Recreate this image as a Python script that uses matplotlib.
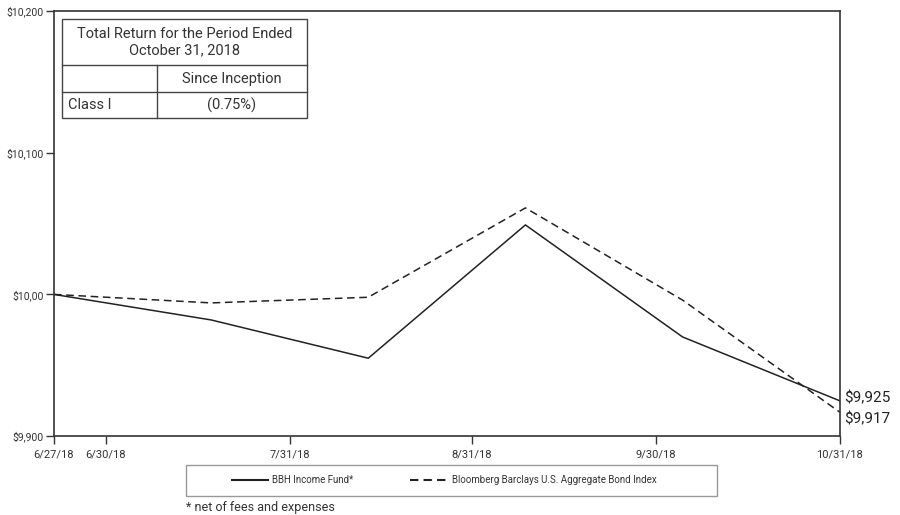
import matplotlib
matplotlib.use("Agg")
import matplotlib.pyplot as plt
from matplotlib.lines import Line2D
from matplotlib.patches import Rectangle

plt.rcParams['font.family'] = ['Roboto', 'DejaVu Sans']

# data
x_pos = [0, 1, 2, 3, 4, 5]
fund_vals = [10000, 9982, 9955, 10049, 9970, 9925]
index_vals = [10000, 9994, 9998, 10061, 9996, 9917]
tick_pos = [0, 0.33, 1.5, 2.66, 3.83, 5]
tick_labels = ['6/27/18', '6/30/18', '7/31/18', '8/31/18', '9/30/18', '10/31/18']
y_ticks = [9900, 10000, 10100, 10200]
y_labels = ['$9,900', '$10,00', '$10,100', '$10,200']
fund_name = 'BBH Income Fund*'
index_name = 'Bloomberg Barclays U.S. Aggregate Bond Index'
end_labels = ['$9,925', '$9,917']

fig = plt.figure(figsize=(9, 5.15), dpi=100)
ax = fig.add_axes([0.06, 0.153, 0.873, 0.826])

ax.plot(x_pos, fund_vals, color='#222222', lw=1.1)
ax.plot(x_pos, index_vals, color='#222222', lw=1.1, ls=(0, (5, 3)))

ax.set_xlim(0, 5)
ax.set_ylim(9900, 10200)
ax.set_xticks(tick_pos)
ax.set_xticklabels(tick_labels, fontsize=8, color='#333333')
ax.set_yticks(y_ticks)
ax.set_yticklabels(y_labels, fontsize=7.5, color='#333333')
ax.tick_params(direction='out', length=6, width=1, color='#333333')
ax.tick_params(axis='y', pad=1.5)
for s in ax.spines.values():
    s.set_color('#333333')
    s.set_linewidth(1.2)

# end values
ax.text(5.03, fund_vals[-1] + 2, end_labels[0], fontsize=11, va='center', ha='left', color='#222222')
ax.text(5.03, index_vals[-1] - 5, end_labels[1], fontsize=11, va='center', ha='left', color='#222222')

# return table, figure pixel coords
W, H = 900, 515
def fx(px): return px / W
def fy(py): return 1 - py / H

tl, tr, tc = 62, 307, 157
rows = [19, 65, 92, 118]
fig.add_artist(Rectangle((fx(tl), fy(rows[-1])), fx(tr) - fx(tl), fy(rows[0]) - fy(rows[-1]),
                         transform=fig.transFigure, fill=True, facecolor='white',
                         edgecolor='#444444', lw=1))
for r in rows[1:-1]:
    fig.add_artist(Line2D([fx(tl), fx(tr)], [fy(r), fy(r)], transform=fig.transFigure, color='#444444', lw=1))
fig.add_artist(Line2D([fx(tc), fx(tc)], [fy(rows[1]), fy(rows[-1])], transform=fig.transFigure, color='#444444', lw=1))
fig.text(fx((tl + tr) / 2), fy(42), 'Total Return for the Period Ended\nOctober 31, 2018', ha='center', va='center',
         fontsize=10.5, color='#333333', linespacing=1.15)
fig.text(fx((tc + tr) / 2), fy(79), 'Since Inception', ha='center', va='center', fontsize=10.5, color='#333333')
fig.text(fx(tl + 6), fy(105), 'Class I', ha='left', va='center', fontsize=10.5, color='#333333')
fig.text(fx((tc + tr) / 2), fy(105), '(0.75%)', ha='center', va='center', fontsize=10.5, color='#333333')

# legend box
fig.add_artist(Rectangle((fx(186), fy(496)), fx(717) - fx(186), fy(465) - fy(496),
                         transform=fig.transFigure, fill=False, edgecolor='#999999', lw=1))
fig.add_artist(Line2D([fx(232), fx(268)], [fy(480), fy(480)], transform=fig.transFigure, color='#222222', lw=1.5))
fig.text(fx(272), fy(480), fund_name, ha='left', va='center', fontsize=7, color='#333333')
fig.add_artist(Line2D([fx(410), fx(448)], [fy(480), fy(480)], transform=fig.transFigure, color='#222222', lw=1.5,
                      ls=(0, (4, 2.5))))
fig.text(fx(452), fy(480), index_name, ha='left', va='center', fontsize=7, color='#333333')

fig.text(fx(186), fy(507), '* net of fees and expenses', ha='left', va='center', fontsize=9, color='#333333')

fig.savefig('out.png', dpi=100)
